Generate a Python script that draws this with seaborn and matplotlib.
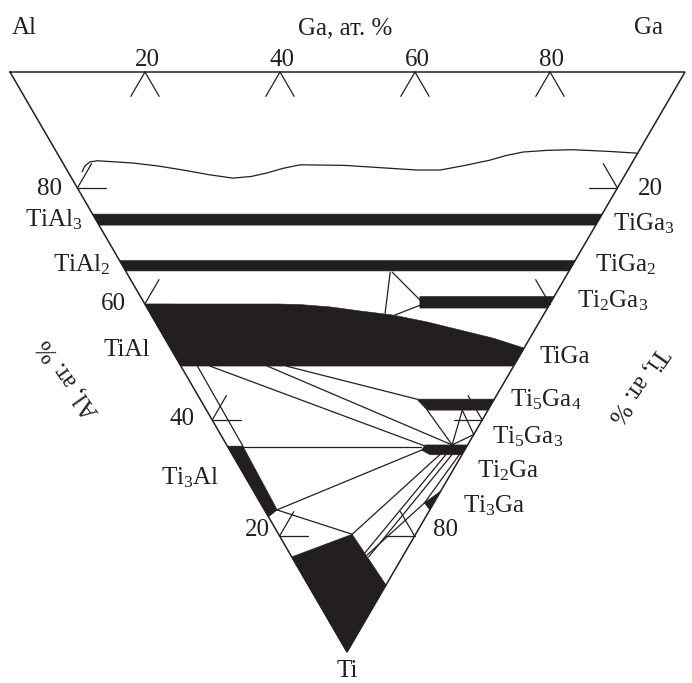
import numpy as np
import pandas as pd
import matplotlib
matplotlib.use("Agg")
import matplotlib.pyplot as plt
import seaborn as sns

# ---------------- data (compositions in at.% Ga, at.% Ti) ----------------
tick_values = [20, 40, 60, 80]

# upper curve (liquidus-like)
curve_ga = [2.1, 3.0, 4.1, 5.3, 10.4, 13.8, 17.2, 20.6, 23.9, 26.8, 29.4, 32.2, 35.0, 41.5, 48.0, 51.8, 55.3, 59.4, 63.5, 66.3, 69.1, 72.9, 76.7, 82.0, 86.0]
curve_ti = [17.2, 16.2, 15.5, 15.3, 15.7, 16.2, 16.9, 17.7, 18.3, 18.0, 17.4, 16.6, 16.0, 16.1, 16.6, 16.9, 16.9, 16.1, 15.2, 14.4, 13.8, 13.5, 13.4, 13.7, 14.0]

# single-phase (black) regions: boundary points
tial3_ga = [0, 75.5, 73.6, 0]
tial3_ti = [24.5, 24.5, 26.4, 26.4]
tial2_ga = [0, 67.5, 65.7, 0]
tial2_ti = [32.5, 32.5, 34.3, 34.3]
ti2ga3_ga = [41.4, 61.3, 59.3, 40.4]
ti2ga3_ti = [38.7, 38.7, 40.7, 40.7]
tial_ga = [0, 19.8, 23.0, 27.2, 31.3, 35.8, 40.3, 44.5, 48.7, 52.4, 49.3, 0]
tial_ti = [40.0, 40.0, 40.1, 40.5, 41.2, 41.9, 43.1, 44.5, 45.9, 47.6, 50.7, 50.7]
ti5ga4_ga = [32.1, 43.6, 41.7, 32.7]
ti5ga4_ti = [56.4, 56.4, 58.3, 58.3]
ti2ga_ga = [29.4, 35.7, 34.0, 29.3, 28.4]
ti2ga_ti = [64.3, 64.3, 66.0, 66.0, 65.2]
ti3al_ga = [0, 2.3, 1.9, 0]
ti3al_ti = [64.5, 64.5, 75.5, 76.7]
ti3ga_ga = [27.8, 24.5, 24.3]
ti3ga_ti = [72.2, 75.5, 74.3]
tiss_ga = [0, 10.9, 11.55, 0]
tiss_ti = [83.6, 79.7, 88.45, 100]

# tie lines / phase boundaries (start ga, start ti, end ga, end ti)
tie_ga0 = [39.1, 39.4, 36.1, 2.45, 4.3, 12.8, 15.6, 32.7, 33.4, 37.9, 33.4, 2.3, 28.4, 1.85, 10.9, 31.6, 32.5, 33.6, 24.3]
tie_ti0 = [34.5, 34.5, 41.9, 50.7, 50.7, 50.7, 50.7, 58.3, 64.3, 58.3, 64.3, 64.6, 65.2, 75.5, 79.7, 66.0, 66.0, 66.0, 74.3]
tie_ga1 = [34.8, 41.1, 40.7, 2.3, 29.3, 33.4, 32.1, 33.4, 37.9, 37.5, 37.5, 28.6, 1.85, 10.9, 30.7, 11.2, 11.4, 24.3, 11.3]
tie_ti1 = [41.6, 39.3, 40.2, 64.5, 64.5, 64.3, 56.4, 64.3, 58.3, 62.5, 62.5, 64.6, 75.5, 79.7, 66.0, 82.9, 83.6, 74.3, 83.3]

# ---------------- layout ----------------
AL = (10.0, 72.0)
GA = (685.0, 72.0)
TI = (347.0, 652.0)
INK = "#231f20"
TICK_LEN = 4.2


def tern(ga, ti):
    ga = np.asarray(ga, dtype=float) / 100.0
    ti = np.asarray(ti, dtype=float) / 100.0
    x = AL[0] + ga * (GA[0] - AL[0]) + ti * (TI[0] - AL[0])
    y = AL[1] + ga * (GA[1] - AL[1]) + ti * (TI[1] - AL[1])
    return x, y


sns.set_theme(style="white")
plt.rcParams["font.family"] = ["Liberation Serif", "DejaVu Serif"]
plt.rcParams["mathtext.fontset"] = "custom"
plt.rcParams["mathtext.rm"] = "Liberation Serif"
plt.rcParams["mathtext.it"] = "Liberation Serif:italic"

fig = plt.figure(figsize=(6.92, 6.83), dpi=100)
ax = fig.add_axes([0, 0, 1, 1])

# black regions
for gs, ts in [(tial3_ga, tial3_ti), (tial2_ga, tial2_ti), (ti2ga3_ga, ti2ga3_ti),
               (tial_ga, tial_ti), (ti5ga4_ga, ti5ga4_ti), (ti2ga_ga, ti2ga_ti),
               (ti3al_ga, ti3al_ti), (ti3ga_ga, ti3ga_ti), (tiss_ga, tiss_ti)]:
    x, y = tern(gs, ts)
    ax.fill(x, y, color=INK, lw=0.4, ec=INK, zorder=3)

# line segments: tie lines + ticks
rows = []
sid = 0
for g0, t0, g1, t1 in zip(tie_ga0, tie_ti0, tie_ga1, tie_ti1):
    x, y = tern([g0, g1], [t0, t1])
    rows += [(sid, x[0], y[0], 0), (sid, x[1], y[1], 1)]
    sid += 1
for v in tick_values:
    # top edge (Ga)
    arms = [((v, 0), (v, TICK_LEN)), ((v, 0), (v - TICK_LEN, TICK_LEN))]
    # left edge (Al = v -> Ti = 100 - v)
    t = 100 - v
    arms += [((0, t), (TICK_LEN, t)), ((0, t), (TICK_LEN, t - TICK_LEN))]
    # right edge (Ti = v)
    arms += [((100 - v, v), (100 - v - TICK_LEN, v)), ((100 - v, v), (100 - v, v - TICK_LEN))]
    for (g0, t0), (g1, t1) in arms:
        x, y = tern([g0, g1], [t0, t1])
        rows += [(sid, x[0], y[0], 0), (sid, x[1], y[1], 1)]
        sid += 1
seg = pd.DataFrame(rows, columns=["seg", "x", "y", "order"])
sns.lineplot(data=seg, x="x", y="y", units="seg", estimator=None, sort=False,
             color=INK, lw=0.9, ax=ax, zorder=2)

# curve
cx, cy = tern(curve_ga, curve_ti)
sns.lineplot(x=cx, y=cy, sort=False, estimator=None, color=INK, lw=0.9, ax=ax, zorder=2)

# triangle outline
ox, oy = tern([0, 100, 0, 0], [0, 0, 100, 0])
ax.plot(ox, oy, color=INK, lw=1.1, zorder=4, solid_joinstyle="miter")

# ---------------- text ----------------
FS = 18
kw = dict(fontsize=FS, color=INK)
ax.text(12, 34, "Al", ha="left", va="baseline", **kw)
ax.text(345, 34, "Ga, ат. %", ha="center", va="baseline", **kw)
ax.text(663, 34, "Ga", ha="right", va="baseline", **kw)
for v in tick_values:
    x, _ = tern(v, 0)
    ax.text(x + 2, 66, str(v), ha="center", va="baseline", **kw)

# left axis numbers (Al)
for s, (x, y) in zip(["80", "60", "40", "20"], [(62, 195), (126, 310), (195, 425), (270, 536)]):
    ax.text(x, y, s, ha="right", va="baseline", **kw)
# right axis numbers (Ti)
ax.text(638, 195, "20", ha="left", va="baseline", **kw)
ax.text(433, 536, "80", ha="left", va="baseline", **kw)

left_labels = [("TiAl$_3$", 83, 226), ("TiAl$_2$", 110, 271), ("TiAl", 150, 356), ("Ti$_3$Al", 219, 484)]
for s, x, y in left_labels:
    ax.text(x, y, s, ha="right", va="baseline", **kw)
right_labels = [("TiGa$_3$", 613, 230), ("TiGa$_2$", 595, 271), ("Ti$_2$Ga$_3$", 577, 307),
                ("TiGa", 540, 363), ("Ti$_5$Ga$_4$", 510, 406), ("Ti$_5$Ga$_3$", 492, 443),
                ("Ti$_2$Ga", 477, 477), ("Ti$_3$Ga", 463, 512)]
for s, x, y in right_labels:
    ax.text(x, y, s, ha="left", va="baseline", **kw)

ax.text(347, 682, "Ti", ha="center", va="bottom", **kw)
ax.text(68, 378, "Al, ат. %", ha="center", va="center", rotation=125,
        rotation_mode="anchor", **kw)
ax.text(638, 385, "Ti, ат. %", ha="center", va="center", rotation=-125,
        rotation_mode="anchor", **kw)

ax.set_xlim(0, 692)
ax.set_ylim(683, 0)
ax.axis("off")
if ax.get_legend() is not None:
    ax.get_legend().remove()
fig.savefig("out.png", dpi=100, facecolor="white")
